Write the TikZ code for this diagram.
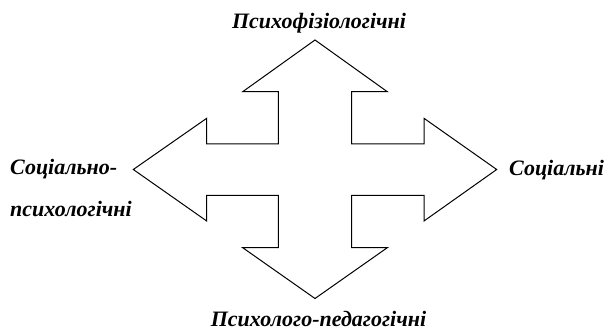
\documentclass[tikz,border=0pt]{standalone}
\usepackage{fontspec}
\setmainfont{Liberation Serif}
\begin{document}
\begin{tikzpicture}[x=1pt,y=-1pt,
  lbl/.style={font=\fontsize{22}{26}\selectfont\bfseries\itshape, inner sep=0pt},
  outline/.style={draw=black, line width=1pt, line join=miter}]
\useasboundingbox (0,0) rectangle (606,331);
\draw[outline] (315,40) -- (387.3,91.7) -- (351.7,91.7) -- (351.7,144) -- (424,144) -- (424,118.3)
  -- (496.7,169.5) -- (424,221) -- (424,195.5) -- (351.7,195.5) -- (351.7,247.7) -- (387.3,247.7)
  -- (315,298.5) -- (242.7,247.7) -- (278.3,247.7) -- (278.3,195.5) -- (206.7,195.5) -- (206.7,221)
  -- (133.3,169.5) -- (206.7,118.3) -- (206.7,144) -- (278.3,144) -- (278.3,91.7) -- (242.7,91.7) -- cycle;
\node[lbl, anchor=base] (top) at (319,29) {Психофізіологічні};
\node[lbl, anchor=base west] (left1) at (10,175) {Соціально-};
\node[lbl, anchor=base west] (left2) at (10,216.7) {психологічні};
\node[lbl, anchor=base west] (right) at (509,176) {Соціальні};
\node[lbl, anchor=base] (bottom) at (318.5,326.5) {Психолого-педагогічні};
\end{tikzpicture}
\end{document}
